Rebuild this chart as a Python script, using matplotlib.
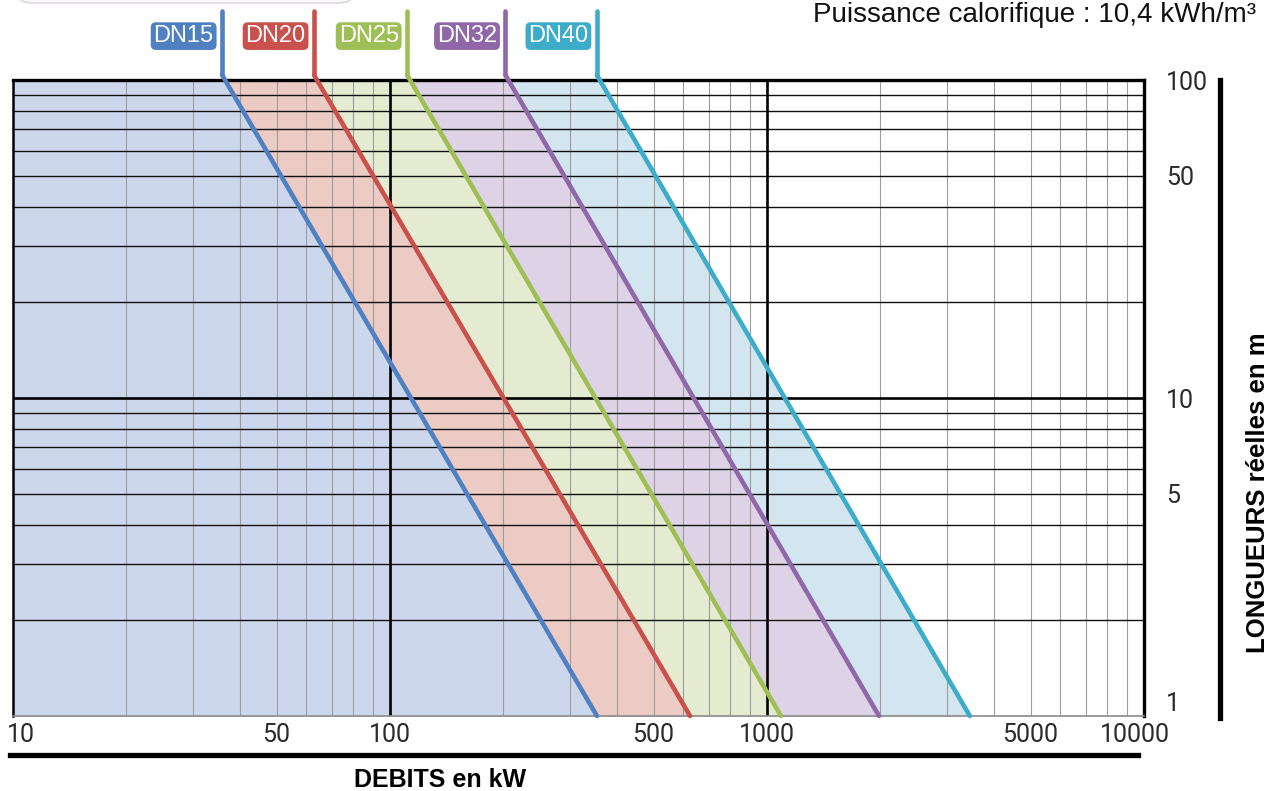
import numpy as np
import matplotlib
matplotlib.use("Agg")
import matplotlib.pyplot as plt
from matplotlib.ticker import LogLocator, NullFormatter
from matplotlib.transforms import blended_transform_factory, ScaledTranslation
from matplotlib.lines import Line2D
from matplotlib.patches import FancyBboxPatch

# ---------------- data ----------------
diameters = ["DN15", "DN20", "DN25", "DN32", "DN40"]
q_at_1m = [354, 625, 1089, 1982, 3452]      # kW at L = 1 m
q_at_100m = [36.5, 64, 113, 206, 360]       # kW at L = 100 m
lengths = [1, 100]
x_ticks = [10, 50, 100, 500, 1000, 5000, 10000]
x_tick_labels = ["10", "50", "100", "500", "1000", "5000", "10000"]
y_ticks = [1, 5, 10, 50, 100]
y_tick_labels = ["1", "5", "10", "50", "100"]

line_colors = ["#4f80c2", "#c9504b", "#9dbf55", "#9067a9", "#3cacc9"]
fill_colors = ["#cdd7ec", "#ebcbc4", "#e5ebd1", "#ded2e6", "#d3e5ef"]

W, H = 1270, 791
fig = plt.figure(figsize=(W / 100, H / 100), dpi=100)
ax = fig.add_axes([13 / W, 75 / H, 1131 / W, 636 / H])
ax.set_xscale("log")
ax.set_yscale("log")
ax.set_xlim(10, 10000)
ax.set_ylim(1, 100)

# fills
prev = [10, 10]
for i, d in enumerate(diameters):
    cur = [q_at_1m[i], q_at_100m[i]]
    ax.fill_betweenx(lengths, prev, cur, color=fill_colors[i], lw=0, zorder=0)
    prev = cur

# grid
ax.set_axisbelow(False)
ax.xaxis.remove_overlapping_locs = False
ax.yaxis.remove_overlapping_locs = False
ax.xaxis.set_minor_locator(LogLocator(base=10, subs=np.arange(2, 10)))
ax.yaxis.set_minor_locator(LogLocator(base=10, subs=np.arange(2, 10)))
ax.xaxis.set_minor_formatter(NullFormatter())
ax.yaxis.set_minor_formatter(NullFormatter())
ax.xaxis.grid(True, which="minor", color="#9c9c9c", lw=0.8)
ax.yaxis.grid(True, which="minor", color="#111111", lw=1.0)
ax.xaxis.grid(False, which="major")
ax.yaxis.grid(False, which="major")
for v in [100, 1000]:
    ax.axvline(v, color="black", lw=1.9, zorder=2.6)
ax.axhline(10, color="black", lw=1.9, zorder=2.6)

ax.set_xticks(x_ticks)
ax.set_xticklabels(x_tick_labels)
ax.set_yticks(y_ticks)
ax.set_yticklabels(y_tick_labels)
ax.yaxis.tick_right()
ax.tick_params(which="both", length=0)
ax.tick_params(axis="x", which="major", pad=5, labelsize=18, labelcolor="#2b2b2b")
ax.tick_params(axis="y", which="major", pad=16, labelsize=18, labelcolor="#2b2b2b")
for lab in ax.get_xticklabels() + ax.get_yticklabels():
    lab.set_fontfamily("Roboto")
    lab.set_fontweight("normal")
for lab in ax.get_yticklabels():
    if lab.get_text() == "1":
        lab.set_verticalalignment("bottom")
for lab in ax.get_xticklabels():
    if lab.get_text() == "10":
        lab.set_horizontalalignment("left")
        lab.set_transform(lab.get_transform() + ScaledTranslation(-6 / 100, 0, fig.dpi_scale_trans))
    elif lab.get_text() == "10000":
        lab.set_transform(lab.get_transform() + ScaledTranslation(-9 / 100, 0, fig.dpi_scale_trans))

for s, lw, c in [("top", 2.4, "black"), ("right", 2.4, "black"),
                 ("left", 1.8, "black"), ("bottom", 1.2, "#8a8a8a")]:
    ax.spines[s].set_linewidth(lw)
    ax.spines[s].set_color(c)
    ax.spines[s].set_zorder(4)

# lines + tabs
decade_px = 318.0
L_kink = 10 ** (2 + 5 / decade_px)
bt = blended_transform_factory(ax.transData, ax.transAxes)
for i, d in enumerate(diameters):
    q1, q100 = q_at_1m[i], q_at_100m[i]
    s = np.log10(q1 / q100) / np.log10(lengths[1] / lengths[0])
    qk = q100 * (L_kink / 100) ** (-s)
    ax.plot([q1, q100, qk], [1, 100, L_kink], color=line_colors[i], lw=3.3,
            solid_capstyle="round", solid_joinstyle="round", zorder=5, clip_on=False)
    ax.plot([qk, qk], [1.0078, 1.1085], transform=bt, color=line_colors[i], lw=3.3,
            solid_capstyle="round", zorder=5, clip_on=False)
    ax.annotate(d, xy=(qk, 1.069), xycoords=bt, xytext=(-6, 0), textcoords="offset points",
                ha="right", va="center", fontsize=17, color="white",
                family="Liberation Sans",
                bbox=dict(boxstyle="round,pad=0.12,rounding_size=0.22",
                          fc=line_colors[i], ec="none"),
                annotation_clip=False)

# decorations outside axes
fig.add_artist(Line2D([10 / W, 1138 / W], [1 - 755 / H, 1 - 755 / H],
                      color="black", lw=3.8, transform=fig.transFigure))
fig.add_artist(Line2D([1220 / W, 1220 / W], [1 - 80 / H, 1 - 718 / H],
                      color="black", lw=3.8, transform=fig.transFigure))
fig.text(440 / W, 1 - 780 / H, "DEBITS en kW", ha="center", va="center",
         fontsize=18, fontweight="bold", family="Liberation Sans")
fig.text(1258 / W, 1 - 493 / H, "LONGUEURS réelles en m", ha="center", va="center",
         rotation=90, fontsize=18.5, fontweight="bold", family="Liberation Sans")
fig.text(1256 / W, 1 - 22 / H, "Puissance calorifique : 10,4 kWh/m³", ha="right",
         va="baseline", fontsize=20, family="Liberation Sans", color="#111111")
fig.add_artist(FancyBboxPatch((18 / W, 1 - 3 / H), 335 / W, 0.05,
                              boxstyle="round,pad=0,rounding_size=0.012",
                              fc="#fbfafb", ec="#e2dee4", lw=1.5,
                              transform=fig.transFigure))

fig.savefig("out.png", dpi=100)
